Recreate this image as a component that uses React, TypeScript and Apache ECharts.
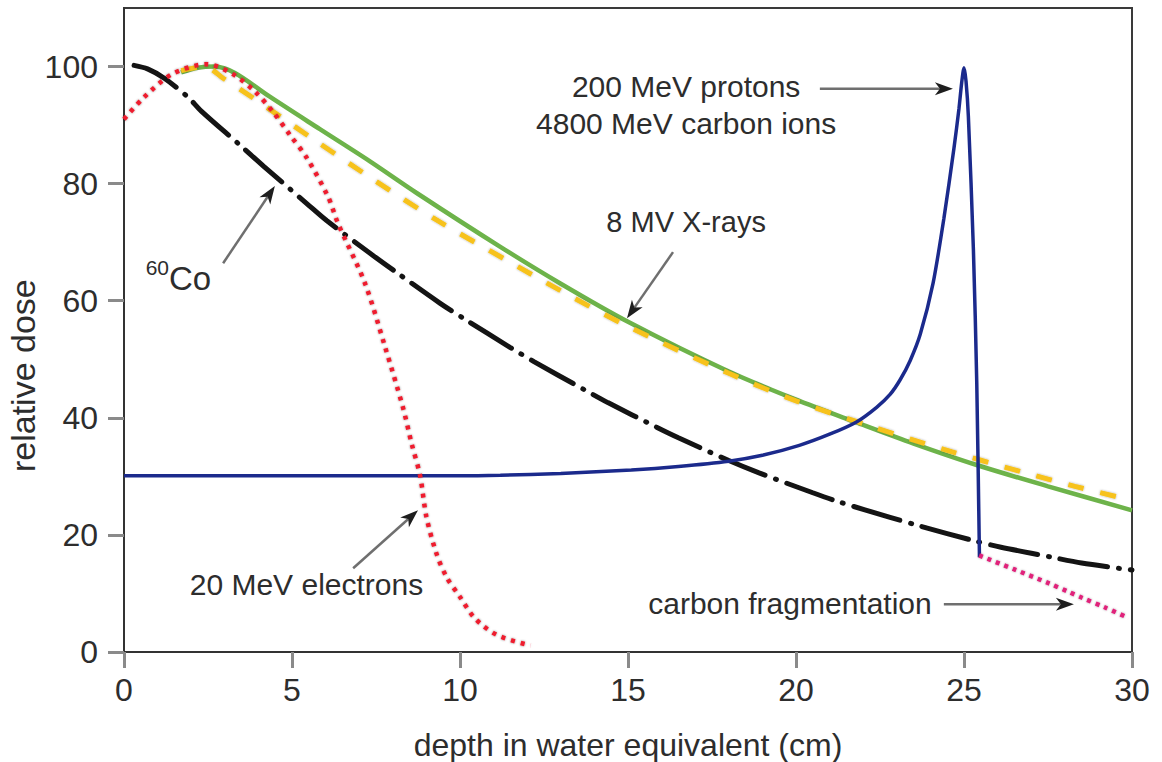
import React, { useEffect, useRef } from "react";
import * as echarts from "echarts";

const FONT = '"Liberation Sans", Arial, Helvetica, sans-serif';

const xTicks = [0, 5, 10, 15, 20, 25, 30];
const yTicks = [0, 20, 40, 60, 80, 100];

// 8 MV X-rays (green solid)
const xrayDepth = [1.7, 2.2, 2.7, 3.3, 4.35, 5.83, 7.32, 8.71, 11.2, 13, 15, 18, 20, 21.8, 23.5, 25.4, 27.5, 30];
const xrayDose = [99, 99.8, 100, 98.9, 94.8, 89.3, 83.8, 78.4, 69.2, 62.9, 56.4, 47.9, 43.1, 39.2, 35.6, 31.9, 28.3, 24.2];

// yellow dashed companion curve
const yellowDepth = [1.7, 2.4, 2.95, 3.85, 5.63, 7.5, 9.3, 11.3, 13, 15, 18, 20, 22.1, 24.4, 26.7, 28.3, 30];
const yellowDose = [99.3, 100, 98, 94.6, 87.6, 80.4, 73.8, 67.2, 61.7, 55.6, 47.6, 42.9, 38.8, 34.6, 30.8, 28.3, 25.9];

// 60Co (black dash-dot)
const cobaltDepth = [0.3, 0.7, 1.2, 1.9, 2.3, 3.45, 4.15, 5.44, 6.03, 7.42, 8.12, 9.4, 10.1, 11.5, 12.2, 13.7, 14.4, 15.85, 16.5, 18, 18.9, 20.5, 21.3, 22.8, 23.7, 25.3, 26.1, 27.6, 28.5, 30];
const cobaltDose = [100.2, 99.6, 98, 94.8, 92.4, 86.6, 83, 76.6, 73.7, 67.7, 64.8, 59.6, 57, 52, 49.6, 44.8, 42.6, 38.4, 36.6, 32.7, 30.6, 27.2, 25.6, 23, 21.5, 19, 17.9, 16.2, 15.2, 14.0];

// 200 MeV protons / 4800 MeV carbon ions (navy)
const protonDepth = [0, 5, 10, 11.2, 13, 15.1, 16.5, 18, 19, 20.1, 21, 21.8, 22.4, 22.8, 23.1, 23.4, 23.7, 24.08, 24.4, 24.7, 24.85, 24.93, 25.0, 25.06, 25.13, 25.28, 25.38, 25.46];
const protonDose = [30.1, 30.1, 30.1, 30.2, 30.5, 31.1, 31.7, 32.6, 33.6, 35.3, 37.2, 39.3, 41.8, 44, 46.5, 49.8, 54.3, 63, 74, 86, 92.8, 97.2, 99.8, 97.5, 91.5, 68.7, 45.9, 16.2];

// 20 MeV electrons (red dots)
const electronDepth = [0, 0.57, 1.43, 2.47, 3.24, 3.9, 4.43, 4.94, 5.44, 6.07, 6.37, 7.17, 7.77, 8.31, 8.56, 8.81, 9.0, 9.3, 9.6, 10.0, 10.45, 11.1, 12.1];
const electronDose = [91, 94.6, 98.7, 100.4, 98.7, 95.7, 92.3, 88.3, 84.4, 77.8, 73.2, 63, 52.1, 41.6, 35.6, 30.2, 23.1, 16.8, 12.8, 9.4, 5.7, 2.9, 1.1];

// carbon fragmentation tail (pink dots)
const fragDepth = [25.45, 26.5, 27.5, 28.1, 28.5, 29.2, 29.9];
const fragDose = [16.5, 14.1, 11.8, 10.3, 9.3, 7.6, 5.8];

// annotations in data coordinates
const labels = [
  { text: "200 MeV protons", at: [16.73, 96.6], size: 30 },
  { text: "4800 MeV carbon ions", at: [16.73, 90.3], size: 30 },
  { text: "8 MV X-rays", at: [16.73, 73.4], size: 29 },
  { text: "20 MeV electrons", at: [5.43, 11.6], size: 30 },
  { text: "carbon fragmentation", at: [19.82, 8.3], size: 30 },
];
const arrows = [
  { from: [20.71, 96.2], to: [24.67, 96.2] },
  { from: [16.34, 68.3], to: [14.97, 57.0] },
  { from: [2.95, 66.4], to: [4.49, 79.6] },
  { from: [6.82, 14.3], to: [8.75, 24.2] },
  { from: [24.4, 8.15], to: [28.27, 8.15] },
];
const cobaltLabelAt = [1.62, 64.3];
const yTitle = "relative dose";
const yTitleAtDose = 47.2; // vertical centre of the y-axis title, in dose units

const pairs = (xs: number[], ys: number[]) => xs.map((x, i) => [x, ys[i]]);

export default function App() {
  const ref = useRef<HTMLDivElement>(null);
  useEffect(() => {
    if (!ref.current) return;
    const chart = echarts.init(ref.current, undefined, { renderer: "svg" });
    const textColor = "#2d2d2d";
    chart.setOption({
      animation: false,
      backgroundColor: "#ffffff",
      grid: {
        left: 124, right: 30, top: 8, bottom: 110,
        outerBoundsMode: "none", containLabel: false,
        show: true, borderColor: "#3a3a3a", borderWidth: 2, backgroundColor: "transparent",
      },
      xAxis: {
        type: "value", min: 0, max: 30, interval: 5,
        axisLine: { show: true, onZero: false, lineStyle: { color: "#333", width: 2 } },
        axisTick: { show: true, length: 16, lineStyle: { color: "#8a8a8a", width: 3 }, customValues: xTicks },
        axisLabel: { fontSize: 32, color: textColor, margin: 22, fontFamily: FONT, customValues: xTicks },
        splitLine: { show: false },
        name: "depth in water equivalent (cm)", nameLocation: "middle", nameGap: 77,
        nameTextStyle: { fontSize: 32, color: textColor, fontFamily: FONT },
      },
      yAxis: {
        type: "value", min: 0, max: 110, interval: 20,
        axisLine: { show: true, lineStyle: { color: "#333", width: 2 } },
        axisTick: { show: true, length: 16, lineStyle: { color: "#8a8a8a", width: 3 }, customValues: yTicks },
        axisLabel: { fontSize: 32, color: textColor, margin: 26, fontFamily: FONT, customValues: yTicks },
        splitLine: { show: false },
      },
      series: [
        {
          name: "8 MV X-rays", type: "line", data: pairs(xrayDepth, xrayDose), showSymbol: false, smooth: 0.3,
          lineStyle: { color: "#6db34a", width: 4.5 }, z: 2,
        },
        {
          name: "X-rays (dashed)", type: "line", data: pairs(yellowDepth, yellowDose), showSymbol: false, smooth: 0.3,
          lineStyle: { color: "#f7c21a", width: 5, type: [16, 17], shadowColor: "rgba(0,0,0,0.35)", shadowBlur: 2 }, z: 3,
        },
        {
          name: "60Co", type: "line", data: pairs(cobaltDepth, cobaltDose), showSymbol: false, smooth: 0.3,
          lineStyle: { color: "#141414", width: 5, type: [48, 11, 1, 11], cap: "round" }, z: 4,
        },
        {
          name: "protons", type: "line", data: pairs(protonDepth, protonDose), showSymbol: false, smooth: 0.25,
          lineStyle: { color: "#1b2a8c", width: 3.5 }, z: 5,
        },
        {
          name: "20 MeV electrons", type: "line", data: pairs(electronDepth, electronDose), showSymbol: false, smooth: 0.3,
          lineStyle: { color: "#ee1c2e", width: 4.5, type: [4, 6], shadowColor: "rgba(0,0,0,0.45)", shadowBlur: 2 }, z: 6,
        },
        {
          name: "carbon fragmentation", type: "line", data: pairs(fragDepth, fragDose), showSymbol: false, smooth: 0.3,
          lineStyle: { color: "#e0207a", width: 4.5, type: [4, 5], shadowColor: "rgba(0,0,0,0.35)", shadowBlur: 2 }, z: 6,
        },
      ],
    });

    const px = (p: number[]) => chart.convertToPixel({ xAxisIndex: 0, yAxisIndex: 0 }, p) as number[];
    const graphics: any[] = [];
    const ty = px([0, yTitleAtDose]);
    graphics.push({
      type: "text", x: 23, y: ty[1], rotation: Math.PI / 2, z: 100,
      style: { text: yTitle, fontSize: 34, fontFamily: FONT, fill: textColor, align: "center", verticalAlign: "middle" },
    });
    labels.forEach((l) => {
      const p = px(l.at);
      graphics.push({
        type: "text", x: p[0], y: p[1], z: 100,
        style: { text: l.text, fontSize: l.size, fontFamily: FONT, fill: textColor, align: "center", verticalAlign: "middle" },
      });
    });
    const cp = px(cobaltLabelAt);
    graphics.push({
      type: "text", x: cp[0], y: cp[1], z: 100,
      style: {
        text: "{sup|60}{base|Co}", align: "center", verticalAlign: "middle", fill: textColor, fontFamily: FONT,
        rich: {
          sup: { fontSize: 21, fontFamily: FONT, fill: textColor, verticalAlign: "top", lineHeight: 20 },
          base: { fontSize: 33, fontFamily: FONT, fill: textColor, verticalAlign: "bottom", lineHeight: 38 },
        },
      },
    });
    arrows.forEach((a) => {
      const p0 = px(a.from);
      const p1 = px(a.to);
      const dx = p1[0] - p0[0];
      const dy = p1[1] - p0[1];
      const len = Math.hypot(dx, dy);
      const ux = dx / len, uy = dy / len;
      const nx = -uy, ny = ux;
      const L = 18, W = 6.5;
      const bx = p1[0] - ux * L, by = p1[1] - uy * L;
      const notch = [bx + ux * 5, by + uy * 5];
      graphics.push({
        type: "line", z: 100,
        shape: { x1: p0[0], y1: p0[1], x2: notch[0], y2: notch[1] },
        style: { stroke: "#6f6f6f", lineWidth: 2.5 },
      });
      graphics.push({
        type: "polygon", z: 101,
        shape: { points: [[p1[0], p1[1]], [bx + nx * W, by + ny * W], notch, [bx - nx * W, by - ny * W]] },
        style: { fill: "#1e1e1e" },
      });
    });
    chart.setOption({ graphic: graphics });

    return () => chart.dispose();
  }, []);
  return (
    <div
      ref={ref}
      style={{ position: "fixed", left: 0, top: 0, width: 1162, height: 762, background: "#fff" }}
    />
  );
}
